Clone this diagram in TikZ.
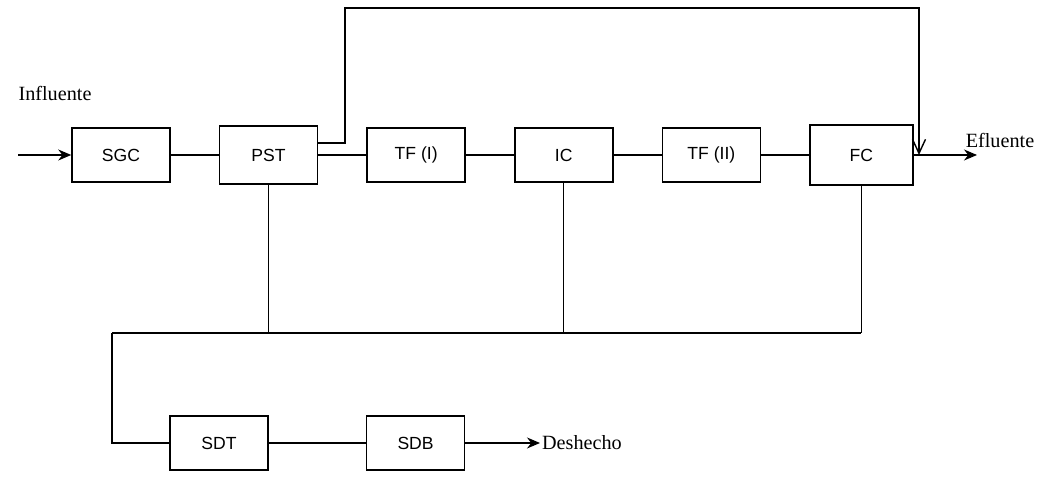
\documentclass[tikz,border=0pt]{standalone}
\usepackage{fontspec}
\setmainfont{Liberation Serif}
\newfontfamily\boxfont{Liberation Sans}
\usetikzlibrary{arrows.meta,positioning}

\begin{document}
\begin{tikzpicture}[
      node distance=0.96cm,
      unit/.style={draw=black, line width=0.9pt, minimum width=1.96cm,
        minimum height=1.08cm, align=center, font=\boxfont\fontsize{10}{12}\selectfont},
      label/.style={font=\fontsize{11.5}{13}\selectfont, inner sep=1pt},
      line/.style={draw=black, semithick},
      arrow/.style={line, -{Stealth[length=2.6mm, width=2.2mm]}},
      droparrow/.style={line, thick, -{Straight Barb[length=2.8mm, width=2.6mm]}}
    ]
    \useasboundingbox (0,0) rectangle (21,-9.54);

    % linea principal
    \node[unit] (sgc) at (2.42,-3.10) {SGC};
    \node[unit, right=of sgc, minimum height=1.16cm] (pst) {PST};
    \node[unit, right=of pst] (tfi) {TF (I)};
    \node[unit, right=of tfi] (ic) {IC};
    \node[unit, right=of ic] (tfii) {TF (II)};
    \node[unit, right=of tfii, minimum width=2.06cm, minimum height=1.2cm] (fc) {FC};

    % lodos
    \node[unit] (sdt) at (4.38,-8.86) {SDT};
    \node[unit, right=1.94cm of sdt] (sdb) {SDB};

    \node[label] (influente) at (1.10,-1.86) {Influente};
    \node[label] (efluente) at (20.00,-2.80) {Efluente};
    \node[label, anchor=west] (deshecho) at (10.80,-8.86) {Deshecho};

    \coordinate (inicio) at (0.36,-3.10);
    \coordinate (loopstart) at (6.90,-2.86);
    \coordinate (looptop) at (18.38,-0.16);
    \coordinate (loopend) at (18.38,-3.10);
    \coordinate (salida) at (19.54,-3.10);
    \coordinate (busleft) at (2.24,-6.66);

    \draw[arrow] (inicio) -- (sgc);
    \draw[line] (sgc) -- (pst);
    \draw[line] (pst) -- (tfi);
    \draw[line] (tfi) -- (ic);
    \draw[line] (ic) -- (tfii);
    \draw[line] (tfii) -- (fc);
    \draw[arrow] (fc.east) -- (salida);

    % derivacion
    \draw[droparrow] (pst.east |- loopstart) -- (loopstart) |- (looptop) -- (loopend);

    % purgas
    \draw[line] (pst.south) -- (pst.south |- busleft);
    \draw[line] (ic.south) -- (ic.south |- busleft);
    \draw[line] (fc.south) -- (fc.south |- busleft);
    \draw[line] (busleft) -- (fc.south |- busleft);
    \draw[line] (busleft) |- (sdt.west);
    \draw[line] (sdt) -- (sdb);
    \draw[arrow] (sdb.east) -- (deshecho.west);
  \end{tikzpicture}
\end{document}
